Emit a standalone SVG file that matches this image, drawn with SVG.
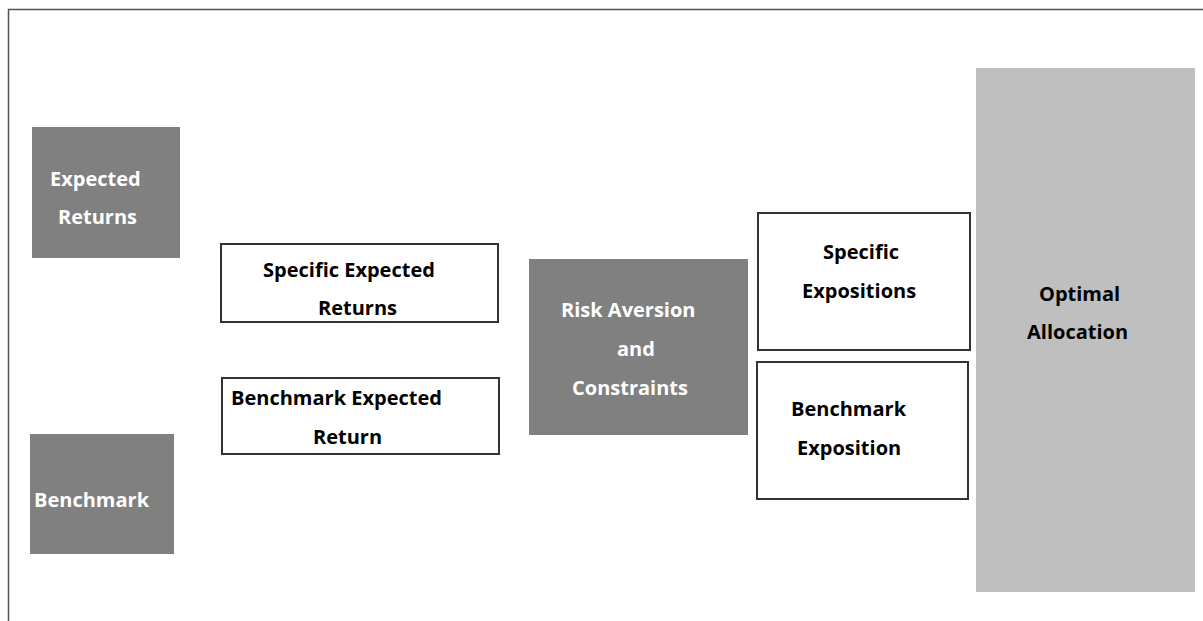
<svg xmlns="http://www.w3.org/2000/svg" width="1203" height="621" viewBox="0 0 1203 621">
<style>
.dk{fill:#808080}
.lt{fill:#bfbfbf}
.bx{fill:#ffffff;stroke:#333333;stroke-width:2}
text{font-family:"Open Sans","Liberation Sans",sans-serif;font-weight:bold;font-size:20px}
.w{fill:#ffffff}
.k{fill:#000000}
</style>
<rect x="0" y="0" width="1203" height="621" fill="#ffffff"/>
<path d="M8.5 621 V9.5 H1203" fill="none" stroke="#555555" stroke-width="1.5"/>
<g id="connectors"></g>
<g id="expected-returns">
<rect class="dk" x="32" y="127" width="148" height="131"/>
<text class="w" x="50" y="186">Expected</text>
<text class="w" x="58" y="224">Returns</text>
</g>
<g id="benchmark">
<rect class="dk" x="30" y="434" width="144" height="120"/>
<text class="w" x="34" y="507">Benchmark</text>
</g>
<g id="specific-expected-returns">
<rect class="bx" x="221" y="244" width="277" height="78"/>
<text class="k" x="263" y="277">Specific Expected</text>
<text class="k" x="318" y="315">Returns</text>
</g>
<g id="benchmark-expected-return">
<rect class="bx" x="222" y="378" width="277" height="76"/>
<text class="k" x="231" y="405">Benchmark Expected</text>
<text class="k" x="313" y="444">Return</text>
</g>
<g id="risk-aversion">
<rect class="dk" x="529" y="259" width="219" height="176"/>
<text class="w" x="561" y="317">Risk Aversion</text>
<text class="w" x="617" y="356">and</text>
<text class="w" x="572" y="395">Constraints</text>
</g>
<g id="specific-expositions">
<rect class="bx" x="758" y="213" width="212" height="137"/>
<text class="k" x="823" y="259">Specific</text>
<text class="k" x="802" y="298">Expositions</text>
</g>
<g id="benchmark-exposition">
<rect class="bx" x="757" y="362" width="211" height="137"/>
<text class="k" x="791" y="416">Benchmark</text>
<text class="k" x="797" y="455">Exposition</text>
</g>
<g id="optimal-allocation">
<rect class="lt" x="976" y="68" width="219" height="524"/>
<text class="k" x="1039" y="301">Optimal</text>
<text class="k" x="1027" y="339">Allocation</text>
</g>
</svg>
